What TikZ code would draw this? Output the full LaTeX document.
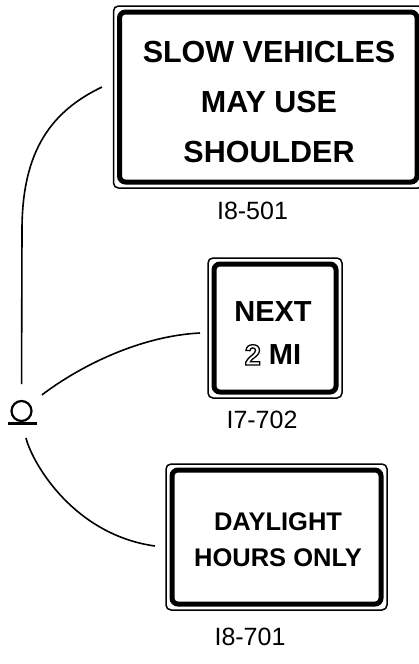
\documentclass[tikz,border=0pt]{standalone}
\usepackage{fontspec}
\setmainfont{Liberation Sans}

\tikzset{every picture/.style={x=1pt, y=-1pt}}
\tikzset{
  sign/.style={draw, line width=5pt, rounded corners=6pt,
               inner sep=0pt, outer sep=0pt},
  frame/.style={line width=1.5pt, rounded corners=5pt},
  signtext/.style={font=\bfseries\fontsize{#1}{#1}\selectfont, align=center},
  signtext/.default={30},
  code/.style={font=\fontsize{25}{30}\selectfont},
  link/.style={line width=1.6pt},
}
\def\gap{6pt}
% outlined digit (stroke only)
\newcommand\hollow[1]{\special{pdf:literal direct 1 Tr 1.3 w}#1\special{pdf:literal direct 0 Tr}}

\begin{document}
\begin{tikzpicture}
  \useasboundingbox (0,0) rectangle (418,664);
  % inner thick borders | name/centre/width/height
  \foreach \s/\x/\y/\w/\h in {slow/268.25/97/297.5/170,
                              next/275/328/122/128,
                              day/276.5/537/209/134} {
      \node[sign, minimum width=\w pt, minimum height=\h pt] (\s) at (\x,\y) {};
      \draw[frame] ([shift={(-\gap,\gap)}]\s.north west)
                   rectangle ([shift={(\gap,-\gap)}]\s.south east);
  };
  % sign texts
  \node[signtext=30.5, font=\bfseries\fontsize{30.5}{50}\selectfont] (slowtext) at (269,102)
      {SLOW VEHICLES\\MAY USE\\SHOULDER};
  \node[signtext=29, font=\bfseries\fontsize{29}{43}\selectfont] (nexttext) at (273,333.5)
      {NEXT\\\hollow{2} MI};
  \node[signtext=25.5, font=\bfseries\fontsize{25.5}{36}\selectfont] (daytext) at (278,540)
      {DAYLIGHT\\HOURS ONLY};
  % sign codes
  \node[code] (slowcode) at (252.5,210.5) {I8-501};
  \node[code] (nextcode) at (262,420) {I7-702};
  \node[code] (daycode) at (250,637) {I8-701};
  % post symbol
  \node[circle, draw, line width=2.2pt, minimum size=20pt,
        inner sep=0pt, outer sep=0pt] (post) at (21.5,411) {};
  \draw[line width=2.2pt] ([shift={(-13.5pt,-2.5pt)}]post.south)
                       -- ([shift={(15.5pt,-2.5pt)}]post.south);
  % free ends near the signs
  \coordinate (slowend) at (102,87);
  \coordinate (nextend) at (200,333);
  \coordinate (dayend) at (155,546);
  % connectors
  \draw[link, shorten <=17pt] (post.north) -- (22,230)
      .. controls (22,150) and (52,111) .. (slowend);
  \draw[link, shorten <=16pt] (post.40)
      .. controls (80,366) and (140,336) .. (nextend);
  \draw[link, shorten <=17.5pt] (post.south)
      .. controls (33,465) and (75,535) .. (dayend);
\end{tikzpicture}
\end{document}
